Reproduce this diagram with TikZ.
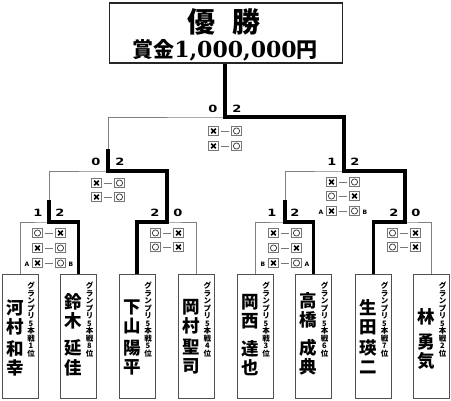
\documentclass[tikz,border=0pt]{standalone}
\usepackage{fontspec}
\usetikzlibrary{calc}
\newfontfamily\jp{Noto Sans CJK JP}
\newfontfamily\dvs{DejaVu Sans}
\newfontfamily\dvserif{DejaVu Serif}
\definecolor{linegray}{HTML}{808080}
\definecolor{boxgray}{HTML}{505050}
\definecolor{sqgray}{HTML}{777777}
\newcommand\scorenum[1]{\scalebox{1.3}[1]{#1}}
\newcommand\resrow[5]{%
  \node[#4] (#1l) at ({#2-11.5},#3) {};
  \node[#5] (#1r) at ({#2+11.5},#3) {};
  \draw[sqgray,line width=0.7pt] ([xshift=2.2pt]#1l.east) -- ([xshift=-2.2pt]#1r.west);
}
\begin{document}
\begin{tikzpicture}[x=1pt,y=-1pt,
  thinline/.style={draw=linegray,line width=1pt},
  thickline/.style={draw=black,line width=3.2pt},
  playerbox/.style={draw=boxgray,line width=0.9pt,minimum width=36pt,minimum height=124pt,anchor=north,inner sep=0pt},
  titlebox/.style={draw=black!85,line width=1.1pt,minimum width=233pt,minimum height=60pt,inner sep=0pt},
  sq/.style={draw=sqgray,line width=0.6pt,minimum size=9.5pt,inner sep=0pt},
  sqo/.style={sq,path picture={\draw[black!80,line width=0.7pt] (path picture bounding box.center) circle (3.1pt);}},
  sqx/.style={sq,path picture={\draw[black,line width=1.7pt]
     ([shift={(-2.3pt,-2.3pt)}]path picture bounding box.center) -- ([shift={(2.3pt,2.3pt)}]path picture bounding box.center)
     ([shift={(-2.3pt,2.3pt)}]path picture bounding box.center) -- ([shift={(2.3pt,-2.3pt)}]path picture bounding box.center);}},
  score/.style={inner sep=0pt,font=\dvs\bfseries\fontsize{10}{10}\selectfont},
  ablabel/.style={inner sep=0pt,font=\dvs\bfseries\fontsize{6}{6}\selectfont},
  namech/.style={inner sep=0pt,font=\jp\bfseries\fontsize{17.5}{17.5}\selectfont},
  rank/.style={inner sep=0pt,align=center,font=\jp\bfseries\fontsize{7.5}{7.5}\selectfont}
]
\useasboundingbox (0,0) rectangle (451,400);

% title box
\node[titlebox] (T) at (226,33) {};
\node[inner sep=0pt,font=\jp\bfseries\fontsize{28}{28}\selectfont] (title) at (224,21.5) {優\hspace{18pt}勝};
\node[inner sep=0pt,font=\jp\bfseries\fontsize{21}{21}\selectfont] (prize) at (225,50) {賞金{\dvserif\bfseries\fontsize{22}{22}\selectfont 1,000,000}円};

% players
\node[playerbox] (P1) at (20,274) {};
\node[playerbox] (P2) at (78.5,274) {};
\node[playerbox] (P3) at (137,274) {};
\node[playerbox] (P4) at (196.5,274) {};
\node[playerbox] (P5) at (255,274) {};
\node[playerbox] (P6) at (313.5,274) {};
\node[playerbox] (P7) at (373.5,274) {};
\node[playerbox] (P8) at (431.5,274) {};

% junctions
\coordinate (J1) at (49,222);
\coordinate (J2) at (167,222);
\coordinate (J3) at (285,222);
\coordinate (J4) at (405,222);
\coordinate (S1) at (108,171);
\coordinate (S2) at (344,171);
\coordinate (F) at (225,117);

% thin bracket
\draw[thinline] (P1.north) |- (J1) -| (P2.north);
\draw[thinline] (P3.north) |- (J2) -| (P4.north);
\draw[thinline] (P5.north) |- (J3) -| (P6.north);
\draw[thinline] (P7.north) |- (J4) -| (P8.north);
\draw[thinline] (J1) |- (S1) -| (J2);
\draw[thinline] (J3) |- (S2) -| (J4);
\draw[thinline] (S1) |- (F) -| (S2);

% winners
\draw[thickline] (P2.north) |- (J1) -- ++(0,-22);
\draw[thickline] (P3.north) |- (J2) -- ++(0,-22);
\draw[thickline] (P6.north) |- (J3) -- ++(0,-22);
\draw[thickline] (P7.north) |- (J4) -- ++(0,-22);
\draw[thickline] (J2) |- (S1) -- ++(0,-22);
\draw[thickline] (J4) |- (S2) -- ++(0,-22);
\draw[thickline] (S2) |- (F) -- (F |- T.south);

% scores
\node[score] (fsl) at (213,109) {\scorenum{0}};
\node[score] (fsr) at (237,109) {\scorenum{2}};
\node[score] (s1l) at (96,162) {\scorenum{0}};
\node[score] (s1r) at (120,162) {\scorenum{2}};
\node[score] (s2l) at (332,162) {\scorenum{1}};
\node[score] (s2r) at (355,162) {\scorenum{2}};
\node[score] (j1l) at (38,213) {\scorenum{1}};
\node[score] (j1r) at (60,213) {\scorenum{2}};
\node[score] (j2l) at (155,213) {\scorenum{2}};
\node[score] (j2r) at (178,213) {\scorenum{0}};
\node[score] (j3l) at (272,213) {\scorenum{1}};
\node[score] (j3r) at (295,213) {\scorenum{2}};
\node[score] (j4l) at (394,213) {\scorenum{2}};
\node[score] (j4r) at (416,213) {\scorenum{0}};

% result rows
\resrow{fa}{225}{131}{sqx}{sqo}
\resrow{fb}{225}{146}{sqx}{sqo}
\resrow{sla}{108}{183}{sqx}{sqo}
\resrow{slb}{108}{197}{sqx}{sqo}
\resrow{sra}{343}{182}{sqx}{sqo}
\resrow{srb}{343}{196}{sqo}{sqx}
\resrow{src}{343}{211}{sqx}{sqo}
\node[ablabel] (srA) at (321,212) {A};
\node[ablabel] (srB) at (365,212) {B};
\resrow{aa}{49}{233}{sqo}{sqx}
\resrow{ab}{49}{248}{sqx}{sqo}
\resrow{ac}{49}{263}{sqx}{sqo}
\node[ablabel] (aA) at (27,264) {A};
\node[ablabel] (aB) at (71,264) {B};
\resrow{ba}{167}{233}{sqo}{sqx}
\resrow{bb}{167}{247}{sqo}{sqx}
\resrow{ca}{285}{233}{sqx}{sqo}
\resrow{cb}{285}{248}{sqo}{sqx}
\resrow{cc}{285}{263}{sqx}{sqo}
\node[ablabel] (cB) at (263,264) {B};
\node[ablabel] (cA) at (307,264) {A};
\resrow{da}{404}{233}{sqo}{sqx}
\resrow{db}{404}{247}{sqo}{sqx}

% names
\foreach \c/\yy [count=\i] in {河/308,村/327,和/349,幸/368} \node[namech] (n1-\i) at (15,\yy) {\c};
\foreach \c/\yy [count=\i] in {鈴/302,木/321,延/348,佳/368} \node[namech] (n2-\i) at (73.5,\yy) {\c};
\foreach \c/\yy [count=\i] in {下/307,山/326,陽/348,平/367} \node[namech] (n3-\i) at (132,\yy) {\c};
\foreach \c/\yy [count=\i] in {岡/307,村/326,聖/347,司/366} \node[namech] (n4-\i) at (191.5,\yy) {\c};
\foreach \c/\yy [count=\i] in {岡/302,西/321,達/349,也/368} \node[namech] (n5-\i) at (250,\yy) {\c};
\foreach \c/\yy [count=\i] in {高/301,橋/320,成/348,典/367} \node[namech] (n6-\i) at (308.5,\yy) {\c};
\foreach \c/\yy [count=\i] in {生/308,田/327,瑛/348,二/367} \node[namech] (n7-\i) at (368.5,\yy) {\c};
\foreach \c/\yy [count=\i] in {林/317,勇/342,気/361} \node[namech] (n8-\i) at (426.5,\yy) {\c};

% ranks
\foreach \xx/\r [count=\i] in {20/1,78.5/8,137/5,196.5/4,255/3,313.5/6,373.5/7,431.5/2}
  \node[rank] (r\i) at (\xx+11,319.5) {グ\\ラ\\ン\\プ\\リ\\5\\本\\戦\\\r\\位};
\end{tikzpicture}
\end{document}
